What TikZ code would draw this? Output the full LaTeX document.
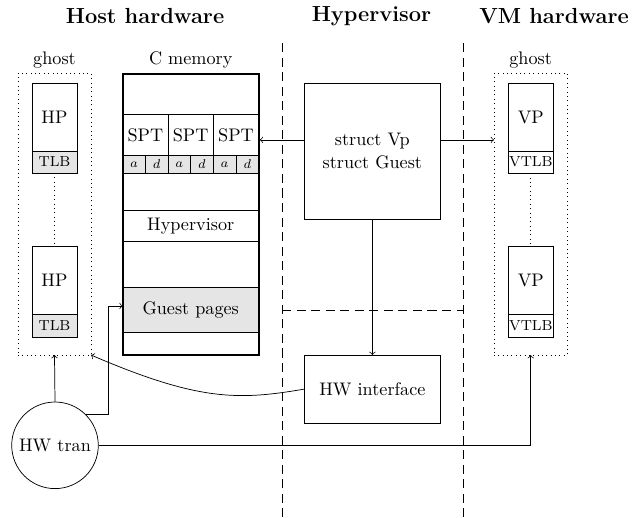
\documentclass[tikz,border=0pt]{standalone}
\usetikzlibrary{calc}
\begin{document}
\begin{tikzpicture}[x=0.55pt,y=-0.55pt,
  bx/.style 2 args={minimum width=#1*0.55pt, minimum height=#2*0.55pt},
  box/.style={draw, inner sep=0pt, outer sep=0pt},
  grayfill/.style={fill=gray!20},
  small/.style={font=\footnotesize},
  cell/.style={box, bx={22.65}{17.6}, grayfill, font=\scriptsize},
  ghostbox/.style={draw, dotted, inner sep=0pt, outer sep=0pt},
  title/.style={font=\large\bfseries},
  sep/.style={dash pattern=on 5pt off 3pt},
  >=to]
\useasboundingbox (0,0) rectangle (633,517);

% titles
\node[title] (t1) at (145,16) {Host hardware};
\node[title] (t2) at (371.5,16) {Hypervisor};
\node[title] (t3) at (554,16) {VM hardware};

% separators
\coordinate (s1t) at (282,43);
\coordinate (s1b) at (282,517);
\coordinate (s2t) at (463,43);
\coordinate (s2b) at (463,517);
\coordinate (hl) at (282,310);
\coordinate (hr) at (463,310);
\draw[sep] (s1t) -- (s1b);
\draw[sep] (s2t) -- (s2b);
\draw[sep] (hl) -- (hr);

% left ghost
\node[ghostbox, bx={73}{282}] (ghostL) at (54.5,214) {};
\node (gl) at (54.5,60) {ghost};
\node[box, bx={45}{68}] (hp1) at (54.5,117) {HP};
\node[box, bx={45}{22}, grayfill, small] (tlb1) at (54.5,162) {TLB};
\node[box, bx={45}{68}] (hp2) at (54.5,280) {HP};
\node[box, bx={45}{23}, grayfill, small] (tlb2) at (54.5,325.5) {TLB};
\draw[dotted] (tlb1.south) -- (hp2.north);

% C memory
\node (cml) at (190.7,60) {C memory};
\node[box, bx={136}{40}] (ctop) at (190.7,94) {};
\node[box, bx={45.3}{41.7}] (spt1) at (145.35,134.85) {SPT};
\node[box, bx={45.3}{41.7}] (spt2) at (190.65,134.85) {SPT};
\node[box, bx={45.3}{41.7}] (spt3) at (235.95,134.85) {SPT};
\node[cell] (a1) at (134.0,164.5) {$a$};
\node[cell] (d1) at (156.7,164.5) {$d$};
\node[cell] (a2) at (179.3,164.5) {$a$};
\node[cell] (d2) at (202.0,164.5) {$d$};
\node[cell] (a3) at (224.6,164.5) {$a$};
\node[cell] (d3) at (247.3,164.5) {$d$};
\node[box, bx={136}{36.7}] (mid1) at (190.7,191.65) {};
\node[box, bx={136}{31.7}] (hyp) at (190.7,225.85) {Hypervisor};
\node[box, bx={136}{45.6}] (mid2) at (190.7,264.5) {};
\node[box, bx={136}{45}, grayfill] (guest) at (190.7,309.8) {Guest pages};
\node[box, bx={136}{22.7}] (cbot) at (190.7,343.65) {};
\node[draw, very thick, inner sep=0pt, bx={136}{281}] (cmem) at (190.7,214.5) {};

% hypervisor column
\node[box, bx={136.7}{135.7}, align=center] (st) at (372.35,151.15) {struct Vp\\[1pt]struct Guest};
\node[box, bx={136.7}{68.3}] (hwi) at (372.35,389.15) {HW interface};

% right ghost
\node[ghostbox, bx={73.3}{281.7}] (ghostR) at (530.65,214.15) {};
\node (gr) at (530.65,60) {ghost};
\node[box, bx={45.7}{67.7}] (vp1) at (530.85,117.15) {VP};
\node[box, bx={45.7}{22.3}, small] (vtlb1) at (530.85,162.15) {VTLB};
\node[box, bx={45.7}{67.6}] (vp2) at (530.85,280.5) {VP};
\node[box, bx={45.7}{23}, small] (vtlb2) at (530.85,325.8) {VTLB};
\draw[dotted] (vtlb1.south) -- (vp2.north);

% HW tran
\node[draw, circle, inner sep=0pt, minimum size=86.6*0.55pt] (hwt) at (55,445.3) {HW tran};

% connectors
\coordinate (sv) at ($(st.north west)!0.417!(st.south west)$);
\coordinate (se) at ($(st.north east)!0.417!(st.south east)$);
\draw[->] (sv) -- (sv -| cmem.east);
\draw[->] (se) -- (se -| ghostR.west);
\draw[->] (st.south) -- (hwi.north);
\draw[->] (hwt.north) -- (ghostL.south);
\coordinate (gpin) at (122.7,306);
\draw[->] (hwt.north east) -- ++(22.7,0) |- (gpin);
\draw[->] (hwt.east) -| (ghostR.south);
\draw[->] (hwi.west) .. controls (240,400) and (200,402) .. (ghostL.south east);
\end{tikzpicture}
\end{document}
